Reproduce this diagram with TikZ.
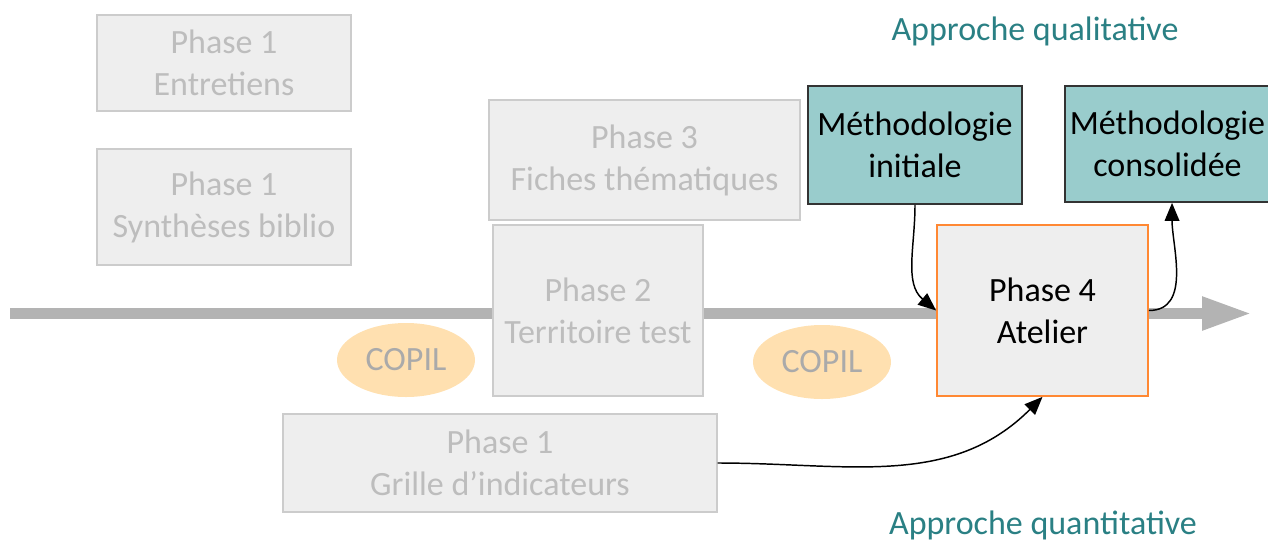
\documentclass[tikz,border=0pt]{standalone}
\usepackage{fontspec}
\setmainfont{Carlito}
\usetikzlibrary{arrows.meta,shapes.geometric}
\definecolor{boxfill}{HTML}{EEEEEE}
\definecolor{boxline}{HTML}{CCCCCC}
\definecolor{boxtext}{HTML}{BDBDBD}
\definecolor{tealfill}{HTML}{99CCCC}
\definecolor{tealline}{HTML}{333333}
\definecolor{teal2}{HTML}{2A8084}
\definecolor{copilfill}{HTML}{FFE0B0}
\definecolor{copiltext}{HTML}{AAAAAA}
\definecolor{orangeline}{HTML}{FF8833}
\definecolor{axis}{HTML}{B3B3B3}
\tikzset{
  every node/.style={font=\fontsize{25.5pt}{31.5pt}\selectfont, align=center, inner sep=0pt},
  oldbox/.style={draw=boxline, line width=1.1pt, fill=boxfill, text=boxtext},
  methbox/.style={draw=tealline, line width=1.3pt, fill=tealfill, text=black},
  atelier/.style={draw=orangeline, line width=1.3pt, fill=boxfill, text=black},
  copil/.style={ellipse, fill=copilfill, text=copiltext},
  label/.style={text=teal2},
  link/.style={draw=black, line width=1.1pt, -{Triangle[length=13.5pt,width=11pt]}},
}
\begin{document}
\begin{tikzpicture}[x=0.75pt,y=-0.75pt]
\useasboundingbox (0,0) rectangle (1268,540);
% axis
\coordinate (axstart) at (10,313.5);
\coordinate (axend) at (1252,313.5);
\draw[axis, line width=8.25pt, -{Triangle[length=37.5pt,width=23.25pt]}] (axstart) -- (axend);
% boxes
\node[oldbox, minimum width=190.5pt, minimum height=72pt] (e1) at (224,63) {Phase 1\\Entretiens};
\node[oldbox, minimum width=190.5pt, minimum height=87pt] (e2) at (224,207) {Phase 1\\Synthèses biblio};
\node[oldbox, minimum width=233.25pt, minimum height=90pt] (p3) at (644.5,160) {Phase 3\\Fiches thématiques};
\node[oldbox, minimum width=157.5pt, minimum height=128.25pt] (p2) at (598,310.5) {Phase 2\\Territoire test};
\node[oldbox, minimum width=325.5pt, minimum height=73.5pt] (g) at (500,463) {Phase 1\\Grille d’indicateurs};
\node[copil, minimum width=103.5pt, minimum height=55.5pt] (c1) at (406,360) {COPIL};
\node[copil, minimum width=103.5pt, minimum height=55.5pt] (c2) at (822,362) {COPIL};
\node[methbox, minimum width=160.5pt, minimum height=88.5pt] (mi) at (915,145) {Méthodologie\\initiale};
\node[methbox, minimum width=153.75pt, minimum height=87pt] (mc) at (1167.5,144) {Méthodologie\\consolidée};
\node[atelier, minimum width=158.25pt, minimum height=128.25pt] (p4) at (1042.5,310.5) {Phase 4\\Atelier};
\node[label] (qual) at (1035,31) {Approche qualitative};
\node[label] (quant) at (1043,525) {Approche quantitative};
% links
\draw[link] (mi.south) to[out=-90,in=140] (p4.west);
\draw[link] (p4.east) to[out=0,in=-90] ([xshift=3.4pt]mc.south);
\draw[link] (g.east) to[out=0,in=-135] (p4.south);
\end{tikzpicture}
\end{document}
